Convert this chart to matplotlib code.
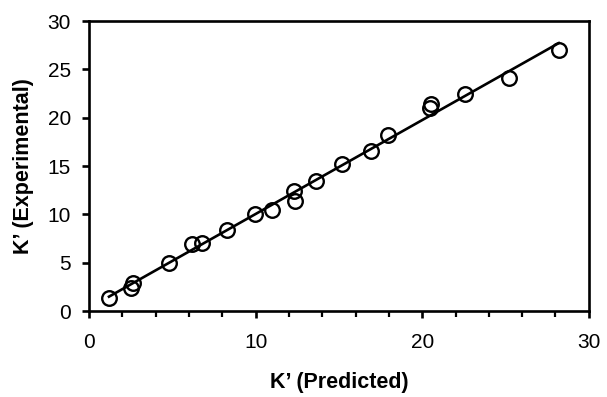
import numpy as np
import matplotlib.pyplot as plt
from matplotlib.ticker import MultipleLocator

plt.rcParams['font.family'] = ['Liberation Sans', 'DejaVu Sans']

# K' previsto vs experimental
k_pred = [1.2, 2.5, 2.66, 4.8, 6.2, 6.8, 8.3, 9.96, 10.96, 12.3, 12.36,
          13.6, 15.2, 16.9, 17.96, 20.46, 20.5, 22.56, 25.2, 28.2]
k_exp = [1.32, 2.35, 2.93, 5.0, 6.93, 7.06, 8.4, 10.03, 10.5, 12.4, 11.4,
         13.5, 15.2, 16.6, 18.2, 20.96, 21.4, 22.4, 24.06, 27.0]

# linha de tendencia (minimos quadrados)
a, b = np.polyfit(k_pred, k_exp, 1)
x_line = np.array([min(k_pred), max(k_pred)])

fig = plt.figure(figsize=(6.07, 3.97), dpi=100)
ax = fig.add_axes([0.1466, 0.2166, 0.8234, 0.7305])

ax.plot(x_line, a * x_line + b, color='black', lw=1.9, zorder=2)
ax.plot(k_pred, k_exp, 'o', ms=10.5, mfc='none', mec='black', mew=1.7, zorder=3)

ax.set_xlim(0, 30)
ax.set_ylim(0, 30)
ax.xaxis.set_major_locator(MultipleLocator(10))
ax.xaxis.set_minor_locator(MultipleLocator(2))
ax.yaxis.set_major_locator(MultipleLocator(5))

for s in ax.spines.values():
    s.set_linewidth(1.9)
ax.tick_params(which='major', direction='out', length=5, width=1.9, labelsize=15)
ax.tick_params(which='minor', direction='out', length=4, width=1.6)
ax.tick_params(axis='x', pad=11)
ax.tick_params(axis='y', pad=8)

ax.set_xlabel('K’ (Predicted)', fontsize=15.5, fontweight='bold', labelpad=14)
ax.set_ylabel('K’ (Experimental)', fontsize=15.5, fontweight='bold', labelpad=10)

fig.savefig('out.png', dpi=100)
